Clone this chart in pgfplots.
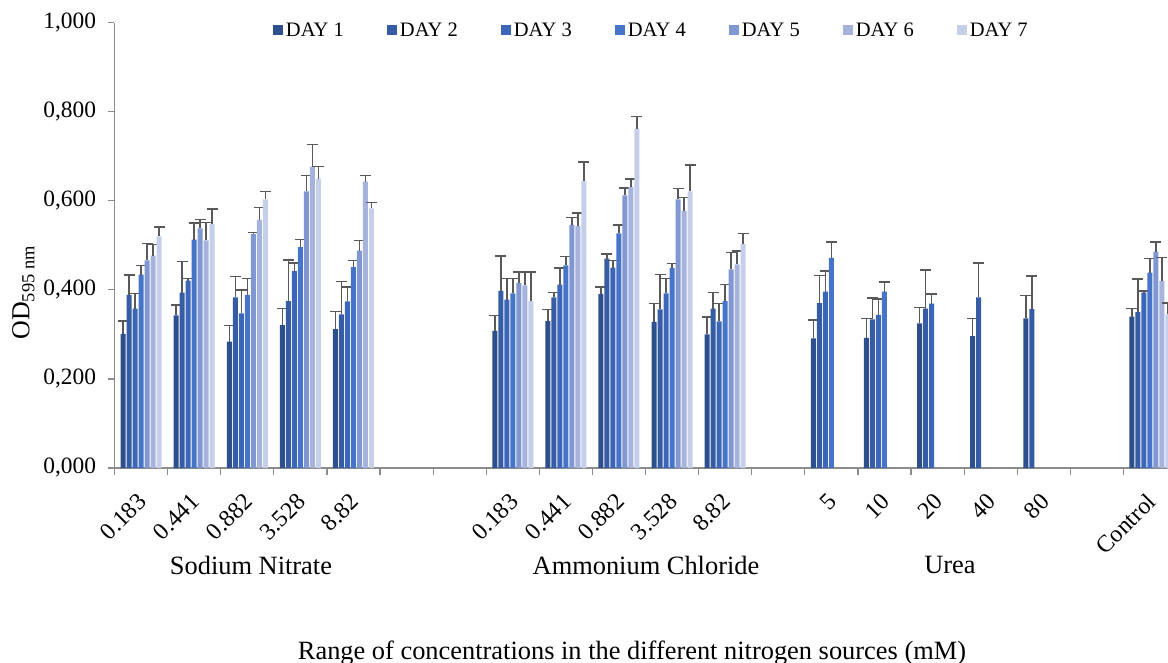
\documentclass[border=0pt]{standalone}
\usepackage{fontspec}
\setmainfont{Liberation Serif}
\usepackage{pgfplots}
\usepackage{pgfplotstable}
\pgfplotsset{compat=1.18}

\definecolor{d1}{HTML}{2E4F8D}
\definecolor{d2}{HTML}{355CA5}
\definecolor{d3}{HTML}{3C67B9}
\definecolor{d4}{HTML}{4674C8}
\definecolor{d5}{HTML}{8197D1}
\definecolor{d6}{HTML}{A5B3DD}
\definecolor{d7}{HTML}{C6CFEA}
\definecolor{errc}{HTML}{595959}
\definecolor{axc}{HTML}{8C8C8C}

% x: 0-4 sodium nitrate, 7-11 ammonium chloride, 13-17 urea, 19 control
% y: mean OD, e: upper error
\pgfplotstableread{
x  y      e
0  0.301  0.029
1  0.343  0.023
2  0.284  0.036
3  0.321  0.037
4  0.312  0.039
7  0.308  0.035
8  0.330  0.026
9  0.391  0.016
10 0.328  0.041
11 0.300  0.039
13 0.291  0.041
14 0.292  0.044
15 0.325  0.035
16 0.296  0.040
17 0.336  0.051
19 0.340  0.018
}\dayone
\pgfplotstableread{
x  y      e
0  0.389  0.044
1  0.394  0.070
2  0.383  0.047
3  0.375  0.092
4  0.345  0.074
7  0.398  0.078
8  0.383  0.011
9  0.470  0.011
10 0.356  0.078
11 0.358  0.036
13 0.370  0.062
14 0.334  0.048
15 0.358  0.087
16 0.383  0.077
17 0.357  0.074
19 0.350  0.074
}\daytwo
\pgfplotstableread{
x  y      e
0  0.358  0.034
1  0.421  0.005
2  0.347  0.053
3  0.442  0.018
4  0.374  0.033
7  0.378  0.048
8  0.412  0.037
9  0.450  0.016
10 0.392  0.034
11 0.329  0.040
13 0.396  0.046
14 0.344  0.036
15 0.369  0.022
19 0.394  0.004
}\daythree
\pgfplotstableread{
x  y      e
0  0.434  0.021
1  0.513  0.037
2  0.389  0.037
3  0.496  0.017
4  0.451  0.015
7  0.392  0.034
8  0.455  0.020
9  0.527  0.019
10 0.449  0.010
11 0.375  0.037
13 0.472  0.036
14 0.396  0.022
19 0.439  0.031
}\dayfour
\pgfplotstableread{
x  y      e
0  0.466  0.038
1  0.538  0.020
2  0.525  0.004
3  0.621  0.036
4  0.488  0.023
7  0.415  0.025
8  0.546  0.016
9  0.612  0.017
10 0.603  0.025
11 0.446  0.038
19 0.486  0.021
}\dayfive
\pgfplotstableread{
x  y      e
0  0.477  0.025
1  0.511  0.040
2  0.557  0.028
3  0.677  0.050
4  0.643  0.014
7  0.410  0.030
8  0.544  0.029
9  0.631  0.018
10 0.577  0.030
11 0.457  0.030
19 0.420  0.053
}\daysix
\pgfplotstableread{
x  y      e
0  0.520  0.021
1  0.548  0.034
2  0.603  0.018
3  0.650  0.027
4  0.583  0.013
7  0.375  0.065
8  0.645  0.042
9  0.762  0.027
10 0.621  0.059
11 0.503  0.024
19 0.345  0.025
}\dayseven

\begin{document}
\begin{tikzpicture}
\begin{axis}[
  scale only axis,
  width=1062bp, height=445.3bp,
  ybar=1bp, bar width=5bp,
  xmin=-0.5, xmax=19.5, ymin=0, ymax=1,
  clip=false,
  axis x line*=bottom, axis y line*=left,
  axis line style={axc, line width=1.2bp},
  tick align=outside,
  tick style={axc, line width=1.2bp},
  major tick length=6bp, minor tick length=7bp,
  ytick={0,0.2,0.4,0.6,0.8,1.0},
  yticklabel style={font=\fontsize{23.5}{27}\selectfont, xshift=-9bp,
    /pgf/number format/.cd, fixed, fixed zerofill, precision=3, use comma, assume math mode=true},
  xtick={0,1,2,3,4,7,8,9,10,11,13,14,15,16,17,19},
  xticklabels={0.183,0.441,0.882,3.528,8.82,0.183,0.441,0.882,3.528,8.82,5,10,20,40,80,Control},
  xticklabel style={xshift=-4.5bp, yshift=-13bp, rotate=45, anchor=north east, font=\fontsize{24}{27}\selectfont},
  major x tick style={draw=none},
  minor xtick={-0.5,0.5,...,19.5},
  error bars/y dir=plus, error bars/y explicit,
  error bars/error bar style={draw=errc, line width=1.5bp},
  error bars/error mark options={rotate=90, mark size=5.5bp, draw=errc, line width=1.5bp},
  legend style={at={(0.506,0.9836)}, anchor=center, draw=none, fill=none,
    legend columns=7, font=\fontsize{20.6}{24}\selectfont,
    /tikz/every even column/.append style={column sep=41bp},
    nodes={inner xsep=2.5bp}},
  legend image code/.code={\fill[#1,draw=none] (0bp,-5bp) rectangle (10bp,5bp);},
]
\addplot[fill=d1, draw=none] table[x=x, y=y, y error=e]{\dayone};
\addplot[fill=d2, draw=none] table[x=x, y=y, y error=e]{\daytwo};
\addplot[fill=d3, draw=none] table[x=x, y=y, y error=e]{\daythree};
\addplot[fill=d4, draw=none] table[x=x, y=y, y error=e]{\dayfour};
\addplot[fill=d5, draw=none] table[x=x, y=y, y error=e]{\dayfive};
\addplot[fill=d6, draw=none] table[x=x, y=y, y error=e]{\daysix};
\addplot[fill=d7, draw=none] table[x=x, y=y, y error=e]{\dayseven};
\legend{DAY 1, DAY 2, DAY 3, DAY 4, DAY 5, DAY 6, DAY 7}
\end{axis}
% group names and axis titles
\node[font=\fontsize{26.5}{30}\selectfont] at (136.5bp,-97bp) {Sodium Nitrate};
\node[font=\fontsize{26.5}{30}\selectfont] at (531.5bp,-97bp) {Ammonium Chloride};
\node[font=\fontsize{26.5}{30}\selectfont] at (835.5bp,-97bp) {Urea};
\node[font=\fontsize{26.5}{30}\selectfont] at (517.5bp,-185bp) {Range of concentrations in the different nitrogen sources (mM)};
\node[rotate=90, font=\fontsize{26}{30}\selectfont] at (-91bp,175bp)
  {OD{\fontsize{18.5}{21}\selectfont\raisebox{-5bp}{595 nm}}};
\pgfresetboundingbox
\useasboundingbox (-114.5bp,-195bp) rectangle (1053.5bp,468bp);
\end{tikzpicture}
\end{document}
